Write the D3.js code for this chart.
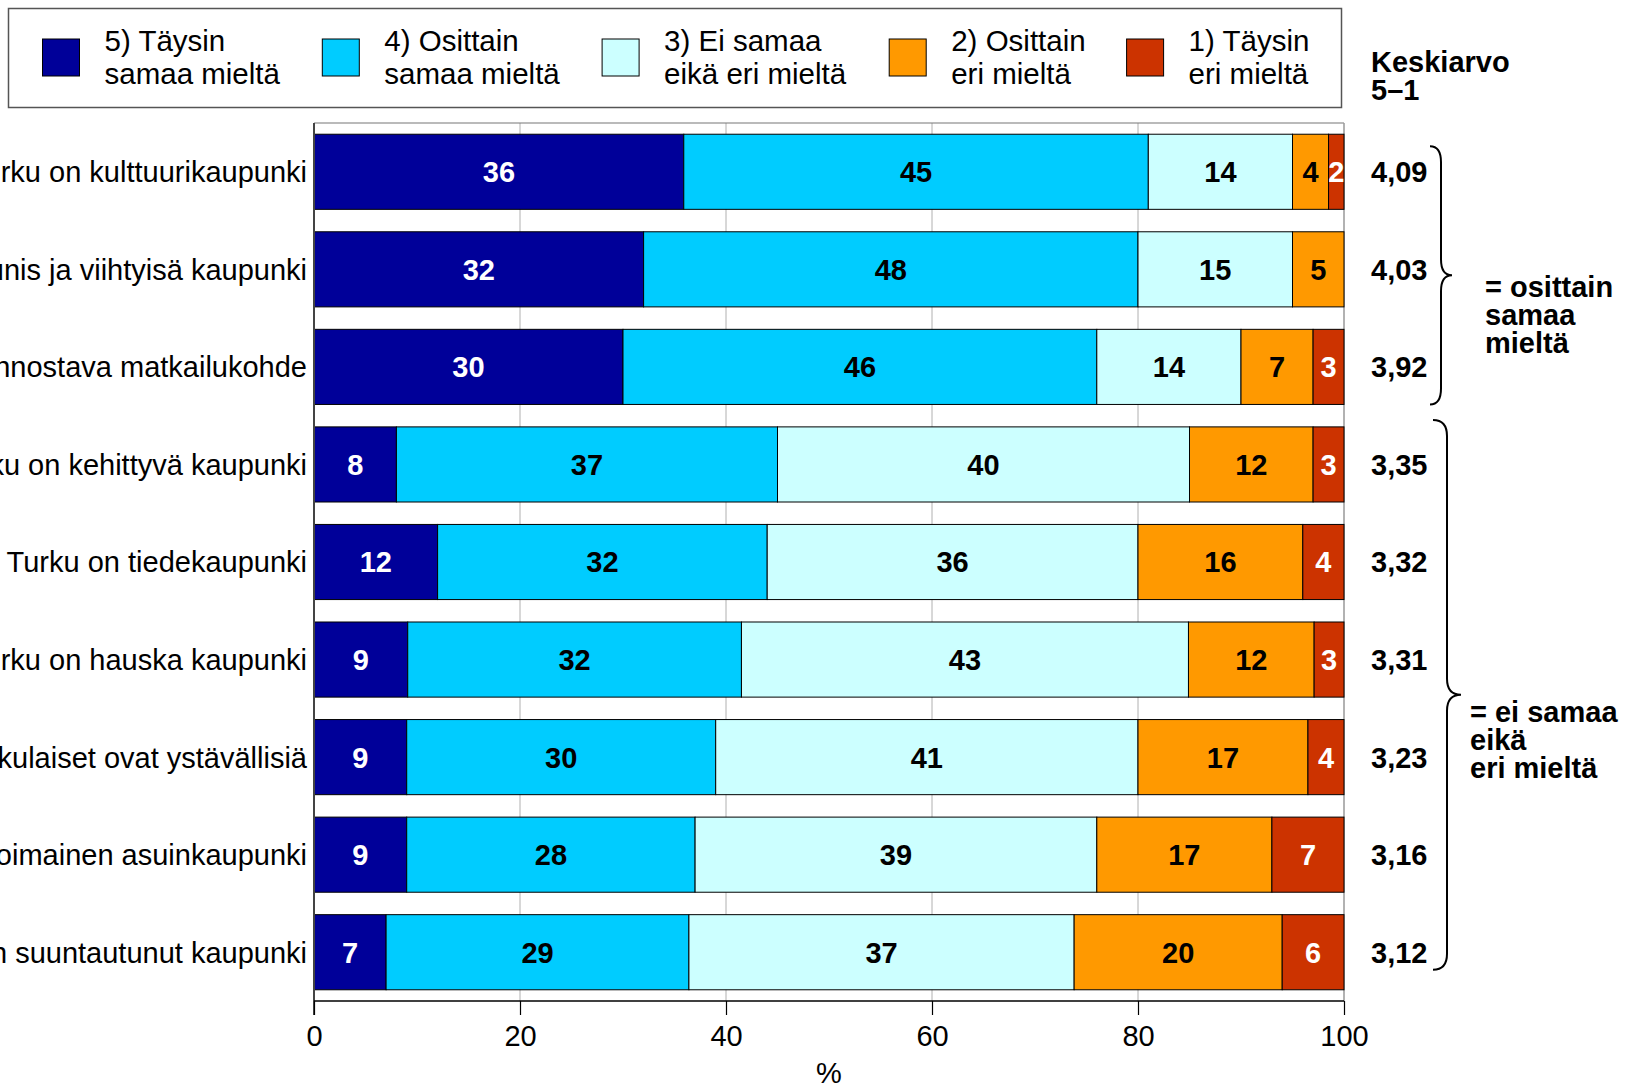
<!DOCTYPE html>
<html>
<head>
<meta charset="utf-8">
<script src="https://cdn.jsdelivr.net/npm/d3@7"></script>
<style>
  html, body { margin: 0; padding: 0; background: #fff; }
  svg { display: block; font-family: "Liberation Sans", Arial, sans-serif; }
</style>
</head>
<body>
<svg id="chart" width="1625" height="1087"></svg>
<script>
// ---- data ----
const categories = [
  "Turku on kulttuurikaupunki",
  "Turku on kaunis ja viihtyisä kaupunki",
  "Turku on kiinnostava matkailukohde",
  "Turku on kehittyvä kaupunki",
  "Turku on tiedekaupunki",
  "Turku on hauska kaupunki",
  "Turkulaiset ovat ystävällisiä",
  "Turku on elinvoimainen asuinkaupunki",
  "Turku on tulevaisuuteen suuntautunut kaupunki"
];
const seriesNames = ["5) Täysin|samaa mieltä", "4) Osittain|samaa mieltä", "3) Ei samaa|eikä eri mieltä", "2) Osittain|eri mieltä", "1) Täysin|eri mieltä"];
const taysinSamaa   = [35.9, 32.0, 30, 8, 12, 9.1, 9.0, 9, 7.0];
const osittainSamaa = [45.1, 48.0, 46, 37, 32, 32.4, 30.0, 28, 29.4];
const eiSamaaEiEri  = [14.0, 15.0, 14, 40, 36, 43.4, 41.0, 39, 37.4];
const osittainEri   = [3.5, 5.0, 7, 12, 16, 12.2, 16.5, 17, 20.2];
const taysinEri     = [1.5, 0, 3, 3, 4, 2.9, 3.5, 7, 6.0];
const means = [4.09, 4.03, 3.92, 3.35, 3.32, 3.31, 3.23, 3.16, 3.12];
const xTicks = [0, 20, 40, 60, 80, 100];
const meanHeader = ["Keskiarvo", "5–1"];
const groupNotes = [
  { from: 0, to: 2, lines: ["= osittain", "samaa", "mieltä"] },
  { from: 3, to: 8, lines: ["= ei samaa", "eikä", "eri mieltä"] }
];

const colors = ["#000099", "#00CCFF", "#CCFFFF", "#FF9900", "#CC3300"];
const labelColors = ["#fff", "#000", "#000", "#000", "#fff"];
const seriesValues = [taysinSamaa, osittainSamaa, eiSamaaEiEri, osittainEri, taysinEri];

// ---- layout ----
const svg = d3.select("#chart");
const plotL = 314, plotR = 1344, plotT = 123, plotB = 1001;
const FS = 29;

const x = d3.scaleLinear().domain([0, 100]).range([plotL, plotR]);
const y = d3.scaleBand().domain(categories).range([plotT, plotB]).paddingInner(0.23).paddingOuter(0.115);

// table for stack
const table = categories.map((c, i) => {
  const o = { cat: c };
  seriesValues.forEach((s, k) => o["s" + k] = s[i]);
  return o;
});
const keys = seriesValues.map((s, k) => "s" + k);
const stacked = d3.stack().keys(keys)(table);

// grid lines
svg.append("g").selectAll("line").data(xTicks.filter(t => t > 0 && t < 100)).join("line")
  .attr("x1", d => x(d)).attr("x2", d => x(d))
  .attr("y1", plotT).attr("y2", plotB)
  .attr("stroke", "#b0b0b0").attr("stroke-width", 1);

// plot frame (top & right)
svg.append("line").attr("x1", plotL).attr("x2", plotR).attr("y1", plotT).attr("y2", plotT)
  .attr("stroke", "#777").attr("stroke-width", 1.2);
svg.append("line").attr("x1", plotR).attr("x2", plotR).attr("y1", plotT).attr("y2", plotB)
  .attr("stroke", "#999").attr("stroke-width", 1.5);

// bars
const layers = svg.append("g").selectAll("g").data(stacked).join("g")
  .attr("fill", (d, i) => colors[i]);
layers.selectAll("rect").data(d => d).join("rect")
  .attr("x", d => x(d[0]))
  .attr("width", d => Math.max(0, x(Math.min(100, d[1])) - x(d[0])))
  .attr("y", d => y(d.data.cat))
  .attr("height", y.bandwidth())
  .attr("stroke", d => (d[1] - d[0]) > 0 ? "#000" : "none")
  .attr("stroke-width", 1);

// bar labels
stacked.forEach((layer, i) => {
  svg.append("g").selectAll("text").data(layer.filter(d => d[1] - d[0] > 0)).join("text")
    .attr("x", d => x((d[0] + Math.min(100, d[1])) / 2))
    .attr("y", d => y(d.data.cat) + y.bandwidth() / 2)
    .attr("dy", "0.36em")
    .attr("text-anchor", "middle")
    .attr("font-weight", "bold")
    .attr("font-size", FS)
    .attr("fill", labelColors[i])
    .text(d => Math.round(d[1] - d[0]));
});

// left axis line
svg.append("line").attr("x1", plotL).attr("x2", plotL).attr("y1", plotT).attr("y2", plotB + 14)
  .attr("stroke", "#444").attr("stroke-width", 2);

// bottom axis
const xAxis = d3.axisBottom(x).tickValues(xTicks).tickSize(14).tickPadding(8).tickFormat(d3.format("d"));
const gx = svg.append("g").attr("transform", `translate(0,${plotB})`).call(xAxis);
gx.select(".domain").attr("stroke", "#000").attr("stroke-width", 1.5).attr("d", `M${plotL},0H${plotR}`);
gx.selectAll(".tick line").attr("stroke", "#000").attr("stroke-width", 1.2);
gx.selectAll(".tick text").attr("font-size", FS).attr("font-family", "Liberation Sans, Arial, sans-serif")
  .attr("fill", "#000").attr("y", 24).attr("dy", "0.71em");

svg.append("text").attr("x", x(50)).attr("y", 1083).attr("text-anchor", "middle")
  .attr("font-size", FS).text("%");

// category labels
svg.append("g").selectAll("text").data(categories).join("text")
  .attr("x", 307)
  .attr("y", d => y(d) + y.bandwidth() / 2)
  .attr("dy", "0.36em")
  .attr("text-anchor", "end")
  .attr("font-size", FS)
  .attr("fill", "#000")
  .text(d => d);

// means
svg.append("g").selectAll("text").data(means).join("text")
  .attr("x", 1371)
  .attr("y", (d, i) => y(categories[i]) + y.bandwidth() / 2)
  .attr("dy", "0.36em")
  .attr("font-size", FS).attr("font-weight", "bold")
  .text(d => d3.format(".2f")(d).replace(".", ","));

svg.append("text").attr("font-size", FS).attr("font-weight", "bold")
  .selectAll("tspan").data(meanHeader).join("tspan")
  .attr("x", 1371).attr("y", (d, i) => 72 + i * 28).text(d => d);

// braces & notes
function bracePath(xc, xv, xt, y0, y1) {
  const ym = (y0 + y1) / 2, r = 16;
  return `M${xc},${y0} Q${xv},${y0} ${xv},${y0 + r} L${xv},${ym - r} Q${xv},${ym} ${xt},${ym} ` +
         `Q${xv},${ym} ${xv},${ym + r} L${xv},${y1 - r} Q${xv},${y1} ${xc},${y1}`;
}
const braceGeo = [
  { xc: 1430, xv: 1441, xt: 1452, top: y(categories[0]) + 12, bot: y(categories[2]) + y.bandwidth(), tx: 1485, base: 297 },
  { xc: 1433, xv: 1447, xt: 1461, top: y(categories[3]) - 7, bot: y(categories[8]) + 55, tx: 1470, base: 722 }
];
groupNotes.forEach((g, i) => {
  const b = braceGeo[i];
  svg.append("path").attr("d", bracePath(b.xc, b.xv, b.xt, b.top, b.bot))
    .attr("fill", "none").attr("stroke", "#000").attr("stroke-width", 2);
  svg.append("text").attr("font-size", FS).attr("font-weight", "bold")
    .selectAll("tspan").data(g.lines).join("tspan")
    .attr("x", b.tx).attr("y", (d, k) => b.base + k * 28).text(d => d);
});

// legend
svg.append("rect").attr("x", 8.5).attr("y", 8.5).attr("width", 1333).attr("height", 99)
  .attr("fill", "#fff").attr("stroke", "#555").attr("stroke-width", 1.5);
const legX = [42.5, 322.3, 602.1, 889.2, 1126.6];
const leg = svg.append("g").selectAll("g").data(seriesNames).join("g")
  .attr("transform", (d, i) => `translate(${legX[i]},0)`);
leg.append("rect").attr("x", 0).attr("y", 39).attr("width", 37).attr("height", 37)
  .attr("fill", (d, i) => colors[i]).attr("stroke", "#000").attr("stroke-width", 1);
leg.append("text").attr("font-size", 29.5)
  .selectAll("tspan").data(d => d.split("|")).join("tspan")
  .attr("x", 62).attr("y", (d, k) => 51 + k * 33).text(d => d);
</script>
</body>
</html>
